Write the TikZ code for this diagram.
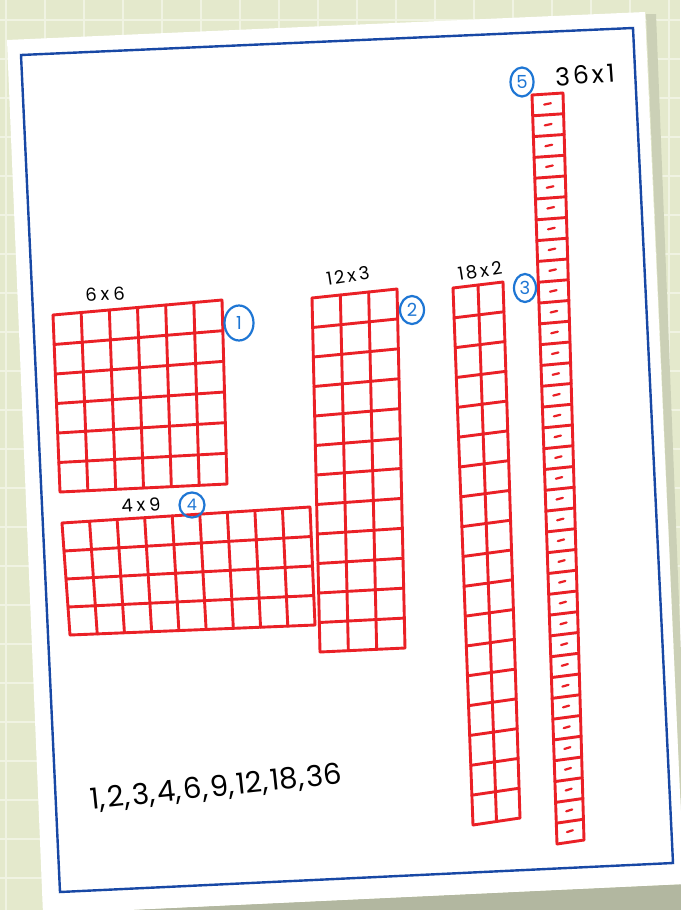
\documentclass[tikz,border=0pt]{standalone}
\usepackage{fontspec}
\setmainfont{Poppins}
\usetikzlibrary{calc,shapes.geometric}

\definecolor{bgc}{RGB}{228,233,204}
\definecolor{gridw}{RGB}{240,243,226}
\definecolor{inkred}{RGB}{234,32,38}
\definecolor{penblue}{RGB}{30,118,212}
\definecolor{frameblue}{RGB}{24,72,165}
\definecolor{shadowc}{RGB}{178,183,160}

\tikzset{
  redline/.style={draw=inkred, line width=2.9pt, line cap=round, line join=round},
  handlabel/.style={font=\fontsize{18}{18}\selectfont, text=black, inner sep=0pt},
  circnum/.style={draw=penblue, text=penblue, ellipse, line width=2.2pt, inner sep=0.6pt,
                  minimum width=26pt, minimum height=30pt, font=\fontsize{18}{18}\selectfont},
}
\newcommand{\gapk}{\kern4pt}

\newcommand{\qgrid}[6]{% TL TR BR BL cols rows
  \foreach \i in {0,...,#5} {\draw[redline] ($(#1)!{\i/#5}!(#2)$) -- ($(#4)!{\i/#5}!(#3)$);}
  \foreach \j in {0,...,#6} {\draw[redline] ($(#1)!{\j/#6}!(#4)$) -- ($(#2)!{\j/#6}!(#3)$);}
}

\begin{document}
\begin{tikzpicture}[x=1pt,y=-1pt]
\useasboundingbox (0,0) rectangle (680,910);
% background
\fill[bgc] (0,0) rectangle (680,910);
\foreach \gx in {6,45,...,680} {\draw[gridw, line width=1.4pt] (\gx,0) -- (\gx,910);}
\foreach \gy in {20,59,...,910} {\draw[gridw, line width=1.4pt] (0,\gy) -- (680,\gy);}
% shadow and paper
\fill[shadowc] (40,914) -- (686,884) -- (686,910) -- (40,910) -- cycle;
\fill[shadowc!50!bgc] (646,14) -- (656,14) -- (690,884) -- (684,884) -- cycle;
\fill[white] (7,40) -- (645,12) -- (684,884) -- (43,914) -- cycle;
% blue frame
\draw[frameblue, line width=2.4pt, line join=miter] (21,55) -- (633,28) -- (673,863) -- (60,892) -- cycle;

% 6x6
\coordinate (a1) at (53,315); \coordinate (a2) at (222,300);
\coordinate (a3) at (227,484); \coordinate (a4) at (60,492);
\qgrid{a1}{a2}{a3}{a4}{6}{6}
% 4x9
\coordinate (b1) at (62,523); \coordinate (b2) at (310,507);
\coordinate (b3) at (315,625); \coordinate (b4) at (70,635);
\qgrid{b1}{b2}{b3}{b4}{9}{4}
% 12x3
\coordinate (c1) at (312,298); \coordinate (c2) at (397,289);
\coordinate (c3) at (405,648); \coordinate (c4) at (320,652);
\qgrid{c1}{c2}{c3}{c4}{3}{12}
% 18x2
\coordinate (d1) at (453,288); \coordinate (d2) at (503,282);
\coordinate (d3) at (520,818); \coordinate (d4) at (473,825);
\qgrid{d1}{d2}{d3}{d4}{2}{18}
% 36x1
\coordinate (e1) at (532,95); \coordinate (e2) at (563,93);
\coordinate (e3) at (584,840); \coordinate (e4) at (557,844);
\qgrid{e1}{e2}{e3}{e4}{1}{36}
\foreach \k in {0,...,35} {
  \coordinate (eL) at ($(e1)!{(\k+0.5)/36}!(e4)$);
  \coordinate (eR) at ($(e2)!{(\k+0.5)/36}!(e3)$);
  \draw[redline, line width=2.2pt] ($(eL)!0.38!(eR)$) -- ($(eL)!0.6!(eR)+(0,-1)$);
}

% labels
\node[handlabel, rotate=2] (l66) at (105,294) {6\gapk x\gapk 6};
\node[handlabel, rotate=4] (l49) at (141,505) {4\gapk x\gapk 9};
\node[handlabel, rotate=9] (l123) at (348,276) {1\kern2pt 2\kern3pt x\kern3pt 3};
\node[handlabel, rotate=9] (l182) at (480,271) {1\kern2pt 8\kern3pt x\kern3pt 2};
\node[handlabel, rotate=4, font=\fontsize{25}{25}\selectfont] (l361) at (585,75) {3\kern3pt 6\kern3pt x\kern3pt 1};

% circled numbers
\node[circnum, minimum width=29pt, minimum height=35pt] (n1) at (239,323) {1};
\node[circnum, minimum width=24pt, minimum height=28pt] (n2) at (412,310) {2};
\node[circnum, minimum width=22pt, minimum height=28pt] (n3) at (525,288) {3};
\node[circnum, minimum width=25pt, minimum height=25pt, font=\fontsize{16}{16}\selectfont] (n4) at (192,505) {4};
\node[circnum, minimum width=23pt, minimum height=29pt] (n5) at (522,82) {5};

% factor list
\node[handlabel, rotate=6, font=\fontsize{29}{29}\selectfont] (fl) at (216,788)
  {1,\kern2.5pt2,\kern2.5pt3,\kern2.5pt4,\kern2.5pt6,\kern2.5pt9,\kern2.5pt12,\kern2.5pt18,\kern2.5pt36};
\end{tikzpicture}
\end{document}
